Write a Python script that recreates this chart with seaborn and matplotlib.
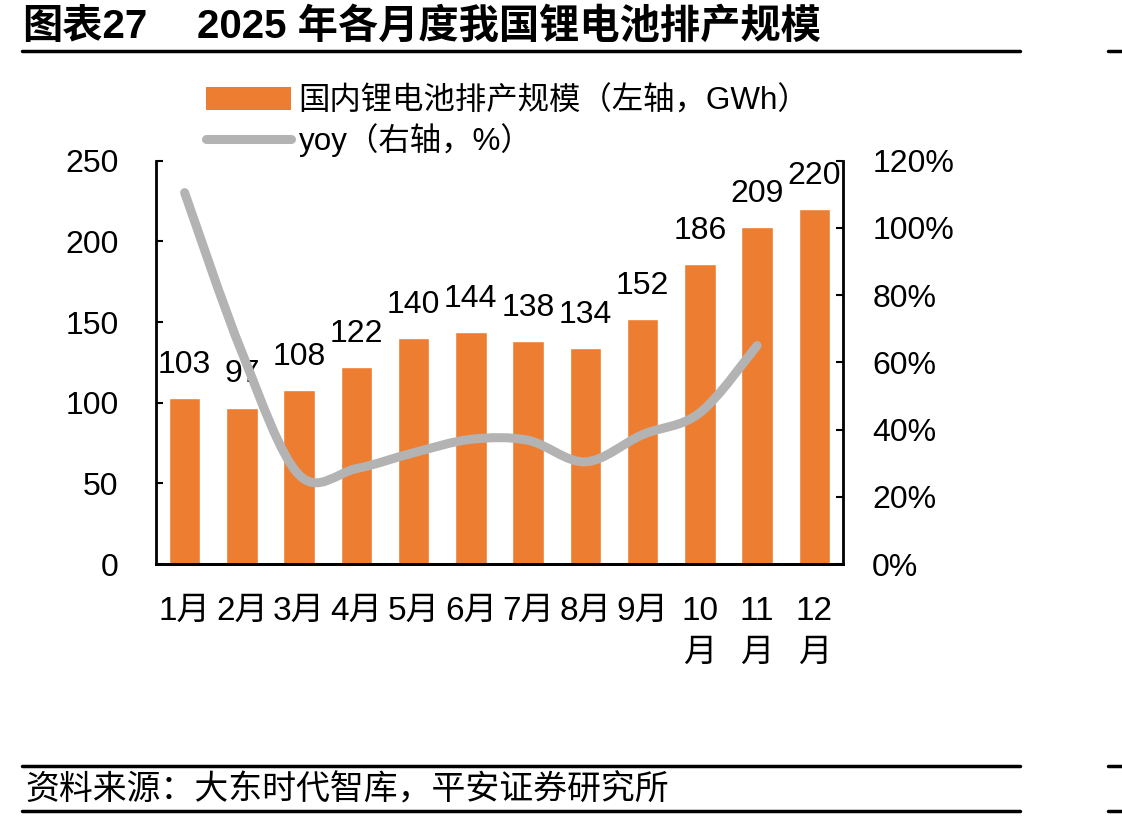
import numpy as np
import pandas as pd
import seaborn as sns
import matplotlib.pyplot as plt
from matplotlib.path import Path
from matplotlib.patches import PathPatch, Patch
from matplotlib.lines import Line2D

# Data
months = ["1月", "2月", "3月", "4月", "5月", "6月", "7月", "8月", "9月",
          "10\n月", "11\n月", "12\n月"]
output_gwh = [103, 97, 108, 122, 140, 144, 138, 134, 152, 186, 209, 220]
yoy_pct = [110.5, 63.0, 26.5, 28.4, 33.1, 37.1, 36.8, 30.4, 38.5, 45.0, 65.0]

left_ticks = [0, 50, 100, 150, 200, 250]
right_ticks = [0, 20, 40, 60, 80, 100, 120]
right_tick_labels = ["0%", "20%", "40%", "60%", "80%", "100%", "120%"]

legend_labels = ["国内锂电池排产规模（左轴，GWh）", "yoy（右轴，%）"]
title_left = "图表27"
title_right = "2025 年各月度我国锂电池排产规模"
source_text = "资料来源：大东时代智库，平安证券研究所"

bar_color = "#ED7D31"
line_color = "#B3B3B3"

sns.set_style("white")
plt.rcParams["font.family"] = ["Liberation Sans", "Noto Sans CJK SC"]
plt.rcParams["axes.edgecolor"] = "black"
plt.rcParams["axes.linewidth"] = 2.0
plt.rcParams["text.color"] = "black"
plt.rcParams["xtick.color"] = "black"
plt.rcParams["ytick.color"] = "black"

W, H = 1122, 821
fig = plt.figure(figsize=(W / 100, H / 100), dpi=100)
ax = fig.add_axes([156 / W, 1 - 564 / H, 687 / W, (564 - 160.7) / H])

# Bars
df = pd.DataFrame({"month": months, "gwh": output_gwh})
sns.barplot(data=df, x="month", y="gwh", color=bar_color, saturation=1,
            width=0.55, ax=ax)
ax.bar_label(ax.containers[0], labels=[str(v) for v in output_gwh],
             padding=13, fontsize=23, color="black")

ax.set_xlim(-0.5, len(months) - 0.5)
ax.set_ylim(0, 250)
ax.set_yticks(left_ticks)
ax.set_xlabel("")
ax.set_ylabel("")
ax.tick_params(axis="y", direction="in", length=5, width=1.5, pad=27,
               labelsize=23)
ax.tick_params(axis="x", which="major", length=0, pad=23, labelsize=24)
ax.set_xticks(np.arange(0.5, len(months) - 1, 1), minor=True)
ax.tick_params(axis="x", which="minor", direction="in", length=7, width=1.5)
for t in ax.get_xticklabels():
    t.set_linespacing(1.45)
ax.spines["top"].set_visible(False)
ax.spines["right"].set_visible(False)

# yoy line on the right axis, smoothed like Excel (Catmull-Rom -> Bezier)
ax2 = ax.twinx()
ax2.set_ylim(0, 120)
ax2.set_yticks(right_ticks)
ax2.set_yticklabels(right_tick_labels)
ax2.tick_params(axis="y", direction="in", length=5, width=1.5, pad=21,
                labelsize=23)
ax2.spines["top"].set_visible(False)
ax2.spines["left"].set_visible(False)

pts = np.column_stack([np.arange(len(yoy_pct)), yoy_pct]).astype(float)
verts = [pts[0]]
codes = [Path.MOVETO]
n = len(pts)
for i in range(n - 1):
    p0 = pts[max(i - 1, 0)]
    p1 = pts[i]
    p2 = pts[i + 1]
    p3 = pts[min(i + 2, n - 1)]
    verts += [p1 + (p2 - p0) / 6, p2 - (p3 - p1) / 6, p2]
    codes += [Path.CURVE4] * 3
ax2.add_patch(PathPatch(Path(verts, codes), facecolor="none",
                        edgecolor=line_color, lw=6.5, capstyle="round",
                        joinstyle="round"))

# Legend
handles = [Patch(facecolor=bar_color, edgecolor="none"),
           Line2D([], [], color=line_color, lw=6.5, solid_capstyle="round")]
fig.legend(handles, legend_labels, loc="upper left",
           bbox_to_anchor=(206 / W, 1 - 86 / H), frameon=False, fontsize=22.6,
           handlelength=2.7, handleheight=0.75, handletextpad=0.25,
           labelspacing=0.22, borderpad=0, borderaxespad=0)

# Title, rules and source
fig.text(22 / W, 1 - 27 / H, title_left, fontsize=29, fontweight="bold",
         va="center")
fig.text(197 / W, 1 - 27 / H, title_right, fontsize=29, fontweight="bold",
         va="center")
for y in (51, 766, 811):
    fig.add_artist(Line2D([22 / W, 1020 / W], [1 - y / H] * 2, color="black",
                          lw=2.5, transform=fig.transFigure))
    fig.add_artist(Line2D([1108 / W, 1.0], [1 - y / H] * 2, color="black",
                          lw=2.5, transform=fig.transFigure))
fig.text(25 / W, 1 - 790 / H, source_text, fontsize=24.4, style="italic",
         va="center", family=["Noto Sans CJK SC", "DejaVu Sans"])

fig.savefig("out.png", dpi=100)
